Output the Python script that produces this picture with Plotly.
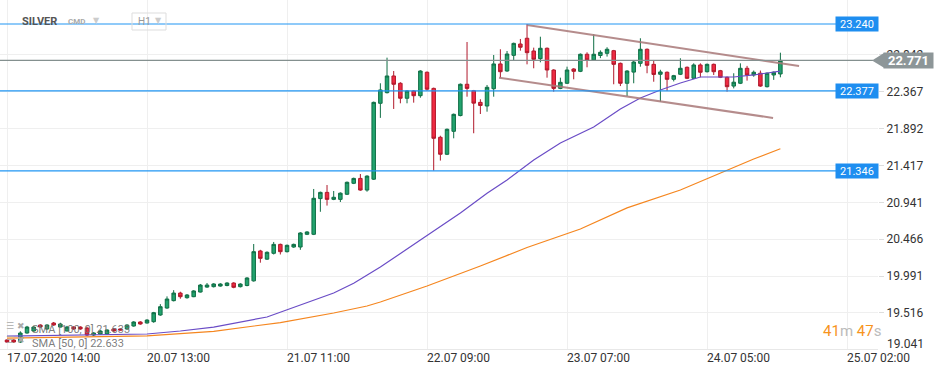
import plotly.graph_objects as go

# ---------------- data ----------------
tick_idx = [0, 21, 42, 63, 84, 105, 126]
tick_labels = ["17.07.2020 14:00", "20.07 13:00", "21.07 11:00", "22.07 09:00",
               "23.07 07:00", "24.07 05:00", "25.07 02:00"]

y_ticks = [19.516, 19.991, 20.466, 20.941, 21.417, 21.892, 22.367, 22.842]
y_bottom_label = "19.041"

open_ = [19.168, 19.168, 19.142, 19.258, 19.284, 19.361, 19.310, 19.387, 19.335, 19.284,
         19.335, 19.335, 19.322, 19.232, 19.245, 19.245, 19.310, 19.310, 19.310, 19.348,
         19.400, 19.387, 19.404, 19.490, 19.580, 19.675, 19.773, 19.713, 19.726, 19.786,
         19.850, 19.855, 19.863, 19.870, 19.902, 19.855, 19.870, 19.930, 20.315, 20.210,
         20.285, 20.400, 20.306, 20.366, 20.366, 20.530, 20.530, 20.990, 21.070, 20.980,
         20.980, 21.046, 21.187, 21.250, 21.100, 21.240, 22.218, 22.355, 22.570, 22.476,
         22.283, 22.377, 22.316, 22.618, 22.410, 21.780, 21.561, 21.857, 22.060, 22.463,
         22.380, 22.230, 22.183, 22.406, 22.725, 22.634, 22.836, 22.982, 23.056, 22.892,
         22.793, 22.927, 22.647, 22.410, 22.476, 22.660, 22.630, 22.850, 22.776, 22.834,
         22.862, 22.896, 22.733, 22.476, 22.620, 22.733, 22.914, 22.720, 22.592, 22.618,
         22.527, 22.592, 22.682, 22.540, 22.712, 22.625, 22.720, 22.638, 22.553, 22.440,
         22.476, 22.669, 22.583, 22.605, 22.432, 22.583, 22.596]
high = [19.180, 19.180, 19.280, 19.350, 19.350, 19.370, 19.370, 19.400, 19.390, 19.350,
        19.345, 19.345, 19.340, 19.270, 19.295, 19.305, 19.320, 19.320, 19.370, 19.410,
        19.410, 19.435, 19.530, 19.630, 19.730, 19.810, 19.790, 19.760, 19.810, 19.890,
        19.902, 19.900, 19.900, 19.912, 19.912, 19.900, 19.977, 20.405, 20.330, 20.310,
        20.431, 20.410, 20.398, 20.410, 20.557, 20.570, 21.114, 21.080, 21.165, 21.088,
        21.070, 21.210, 21.260, 21.307, 21.290, 22.240, 22.476, 22.806, 22.634, 22.490,
        22.387, 22.387, 22.644, 22.628, 22.420, 21.800, 21.893, 22.086, 22.473, 23.008,
        22.390, 22.270, 22.454, 22.840, 22.914, 22.892, 23.000, 23.047, 23.240, 22.935,
        23.076, 22.937, 22.657, 22.548, 22.690, 22.670, 22.860, 22.875, 23.107, 22.900,
        22.940, 22.906, 22.743, 22.644, 22.776, 23.056, 22.924, 22.776, 22.650, 22.628,
        22.584, 22.798, 22.692, 22.733, 22.733, 22.730, 22.730, 22.648, 22.563, 22.605,
        22.733, 22.700, 22.640, 22.640, 22.615, 22.628, 22.870]
low = [19.130, 19.130, 19.130, 19.250, 19.270, 19.330, 19.300, 19.350, 19.330, 19.280,
       19.300, 19.300, 19.220, 19.220, 19.235, 19.235, 19.275, 19.290, 19.300, 19.340,
       19.365, 19.380, 19.390, 19.480, 19.570, 19.665, 19.700, 19.700, 19.720, 19.780,
       19.840, 19.845, 19.855, 19.860, 19.835, 19.845, 19.860, 19.920, 20.164, 20.200,
       20.270, 20.270, 20.296, 20.356, 20.330, 20.520, 20.520, 20.820, 20.900, 20.970,
       20.946, 21.036, 21.177, 21.090, 21.079, 21.230, 22.030, 22.345, 22.145, 22.218,
       22.218, 22.226, 22.290, 22.380, 21.350, 21.480, 21.551, 21.767, 22.050, 22.303,
       21.832, 22.080, 22.110, 22.303, 22.548, 22.624, 22.776, 22.896, 22.720, 22.669,
       22.746, 22.548, 22.368, 22.400, 22.466, 22.527, 22.620, 22.682, 22.766, 22.800,
       22.820, 22.463, 22.440, 22.312, 22.476, 22.690, 22.605, 22.496, 22.240, 22.377,
       22.500, 22.582, 22.530, 22.530, 22.553, 22.615, 22.583, 22.543, 22.368, 22.410,
       22.466, 22.510, 22.560, 22.430, 22.422, 22.520, 22.553]
close = [19.142, 19.142, 19.258, 19.335, 19.335, 19.335, 19.361, 19.361, 19.374, 19.335,
         19.310, 19.310, 19.232, 19.258, 19.284, 19.297, 19.284, 19.297, 19.361, 19.400,
         19.374, 19.425, 19.520, 19.597, 19.696, 19.773, 19.726, 19.748, 19.800, 19.876,
         19.876, 19.890, 19.889, 19.902, 19.847, 19.889, 19.967, 20.306, 20.220, 20.298,
         20.400, 20.306, 20.388, 20.400, 20.547, 20.560, 20.994, 21.070, 20.980, 21.007,
         21.060, 21.200, 21.250, 21.100, 21.280, 22.230, 22.390, 22.570, 22.463, 22.283,
         22.377, 22.316, 22.634, 22.400, 21.767, 21.561, 21.883, 22.076, 22.463, 22.410,
         22.220, 22.190, 22.424, 22.725, 22.625, 22.853, 22.990, 22.940, 22.870, 22.785,
         22.927, 22.647, 22.410, 22.488, 22.647, 22.630, 22.850, 22.776, 22.850, 22.875,
         22.914, 22.720, 22.476, 22.634, 22.750, 22.914, 22.708, 22.590, 22.622, 22.527,
         22.574, 22.669, 22.540, 22.712, 22.618, 22.720, 22.625, 22.553, 22.432, 22.490,
         22.669, 22.583, 22.618, 22.440, 22.605, 22.618, 22.771]

sma50_idx = [0, 8, 21, 26, 31, 39, 44, 49, 52, 56, 62, 68, 72, 75, 79, 83, 88, 92, 95,
             98, 101, 104, 109, 112, 116]
sma50_val = [19.219, 19.232, 19.245, 19.284, 19.335, 19.464, 19.619, 19.773, 19.900,
             20.108, 20.456, 20.804, 21.060, 21.230, 21.487, 21.706, 21.913, 22.145,
             22.286, 22.389, 22.480, 22.557, 22.557, 22.583, 22.633]
sma100_idx = [0, 21, 31, 41, 49, 54, 56, 63, 71, 78, 86, 93, 101, 107, 112, 116]
sma100_val = [19.193, 19.220, 19.280, 19.393, 19.516, 19.606, 19.657, 19.864, 20.121,
              20.360, 20.598, 20.870, 21.101, 21.320, 21.500, 21.633]

levels = [23.240, 22.377, 21.346]
last_price = 22.771

chan_upper_idx = [78.0, 118.8]
chan_upper_val = [23.227, 22.699]
chan_lower_idx = [73.8, 114.9]
chan_lower_val = [22.548, 22.029]

legend_texts = ["SMA [100, 0] 21.633", "SMA [50, 0] 22.633"]
timer_parts = ["41", "m", "47", "s"]

# ---------------- layout geometry ----------------
W, H = 945, 375
MR, MB = 67, 26
PW, PH = W - MR, H - MB
X_RANGE = [-1.05, 130.64]
Y_RANGE = [19.052, 23.549]


def fx(p):
    return p / PW


def fy(p):
    return 1 - p / PH


def vy(v):
    return (v - Y_RANGE[0]) / (Y_RANGE[1] - Y_RANGE[0])


FONT = "Roboto"
idx = list(range(len(open_)))

fig = go.Figure()
fig.add_trace(go.Candlestick(
    x=idx, open=open_, high=high, low=low, close=close,
    increasing=dict(line=dict(color="#0f6e45", width=1), fillcolor="#22a36e"),
    decreasing=dict(line=dict(color="#b0192b", width=1), fillcolor="#ef2a42"),
    whiskerwidth=0, hoverinfo="skip", showlegend=False,
))
fig.add_trace(go.Scatter(x=sma100_idx, y=sma100_val, mode="lines",
                         line=dict(color="#f5861f", width=1.2), hoverinfo="skip",
                         showlegend=False))
fig.add_trace(go.Scatter(x=sma50_idx, y=sma50_val, mode="lines",
                         line=dict(color="#6a4cc6", width=1.2), hoverinfo="skip",
                         showlegend=False))
for cx, cv in [(chan_upper_idx, chan_upper_val), (chan_lower_idx, chan_lower_val)]:
    fig.add_trace(go.Scatter(x=cx, y=cv, mode="lines",
                             line=dict(color="rgba(168,120,120,0.85)", width=2),
                             hoverinfo="skip", showlegend=False))

shapes = []
annotations = []

# level lines + tags
for lv in levels:
    shapes.append(dict(type="line", xref="paper", yref="y", x0=0, x1=fx(836),
                       y0=lv, y1=lv, line=dict(color="#2196f3", width=1.2)))
    annotations.append(dict(xref="paper", yref="y", x=fx(835), y=lv, xanchor="left",
                            yanchor="middle", text=f"{lv:.3f}", showarrow=False,
                            bgcolor="#1e8ef0", width=42, height=14, borderpad=0,
                            font=dict(family=FONT, size=11, color="white")))

# last price line + tag
shapes.append(dict(type="line", xref="paper", yref="y", x0=0, x1=fx(873),
                   y0=last_price, y1=last_price, line=dict(color="#84908f", width=1.2)))
ly = vy(last_price)
shapes.append(dict(type="path", xref="paper", yref="paper",
                   path=f"M {fx(872)},{ly} L {fx(884)},{ly + 7.3 / PH} L {fx(884)},{ly - 7.3 / PH} Z",
                   fillcolor="#8d9698", line=dict(width=0)))
annotations.append(dict(xref="paper", yref="y", x=fx(883), y=last_price, xanchor="left",
                        yanchor="middle", text=f"<b>{last_price:.3f}</b>", showarrow=False,
                        bgcolor="#8d9698", width=49, height=15, borderpad=0,
                        font=dict(family=FONT, size=13, color="white")))

# bottom y label (clamped)
annotations.append(dict(xref="paper", yref="paper", x=fx(885), y=fy(344), xanchor="left",
                        yanchor="middle", text=y_bottom_label, showarrow=False,
                        font=dict(family=FONT, size=12, color="#333")))

# x labels
for ti, tl in zip(tick_idx, tick_labels):
    annotations.append(dict(xref="x", yref="paper", x=ti, y=fy(358), xanchor="left",
                            yanchor="middle", text=tl, showarrow=False, xshift=-2,
                            font=dict(family=FONT, size=12, color="#333")))

# header
annotations += [
    dict(xref="paper", yref="paper", x=fx(20), y=fy(22), xanchor="left", yanchor="middle",
         text="<b>SILVER</b>", showarrow=False, font=dict(family=FONT, size=11, color="#555")),
    dict(xref="paper", yref="paper", x=fx(66), y=fy(22), xanchor="left", yanchor="middle",
         text="<b>CMD</b>", showarrow=False, font=dict(family=FONT, size=8, color="#aaa")),
    dict(xref="paper", yref="paper", x=fx(91), y=fy(21), xanchor="left", yanchor="middle",
         text="▼", showarrow=False, font=dict(family="DejaVu Sans", size=8, color="#ccc")),
    dict(xref="paper", yref="paper", x=fx(136), y=fy(22), xanchor="left", yanchor="middle",
         text="H1", showarrow=False, font=dict(family=FONT, size=10, color="#999")),
    dict(xref="paper", yref="paper", x=fx(153), y=fy(21), xanchor="left", yanchor="middle",
         text="▼", showarrow=False, font=dict(family="DejaVu Sans", size=8, color="#ccc")),
]
shapes.append(dict(type="rect", xref="paper", yref="paper", x0=fx(132), x1=fx(166),
                   y0=fy(30), y1=fy(13), line=dict(color="#dddddd", width=1)))

# legend texts bottom-left
for t, ypx in zip(legend_texts, [329, 343]):
    annotations.append(dict(xref="paper", yref="paper", x=fx(30), y=fy(ypx), xanchor="left",
                            yanchor="middle", text=t, showarrow=False,
                            font=dict(family=FONT, size=11, color="rgba(110,110,110,0.9)")))
    annotations.append(dict(xref="paper", yref="paper", x=fx(4), y=fy(ypx - 3),
                            xanchor="left", yanchor="middle", text="☰ ✖", showarrow=False,
                            font=dict(family="DejaVu Sans", size=9, color="#aaa")))

# timer
timer_text = (f"<span style='color:#f7941d'>{timer_parts[0]}</span>"
              f"<span style='color:#bbbbbb'>{timer_parts[1]}</span> "
              f"<span style='color:#f7941d'>{timer_parts[2]}</span>"
              f"<span style='color:#bbbbbb'>{timer_parts[3]}</span>")
annotations.append(dict(xref="paper", yref="paper", x=fx(821), y=fy(331), xanchor="left",
                        yanchor="middle", text=timer_text, showarrow=False,
                        font=dict(family=FONT, size=15)))

fig.update_layout(
    width=W, height=H,
    margin=dict(l=0, r=MR, t=0, b=MB),
    paper_bgcolor="white", plot_bgcolor="white",
    boxgap=0.25,
    xaxis=dict(range=X_RANGE, tickvals=tick_idx, showticklabels=False, ticks="",
               showgrid=True, gridcolor="#efefef", gridwidth=1, zeroline=False,
               showline=True, linecolor="#e8e8e8", rangeslider=dict(visible=False),
               fixedrange=True),
    yaxis=dict(range=Y_RANGE, side="right", tickvals=y_ticks,
               ticktext=[f"{v:.3f}" for v in y_ticks], ticks="outside", ticklen=5,
               tickcolor="#dddddd", showgrid=True, gridcolor="#efefef", zeroline=False,
               tickfont=dict(family=FONT, size=12, color="#333"), fixedrange=True),
    shapes=shapes, annotations=annotations, showlegend=False,
    font=dict(family=FONT),
)

fig.write_html("out.html", config={"displayModeBar": False},
               post_script="document.body.style.margin='0';")
